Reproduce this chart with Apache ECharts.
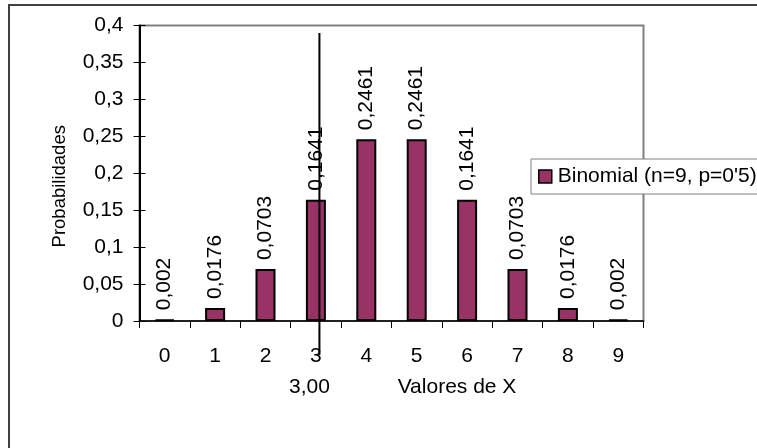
<!DOCTYPE html>
<html>
<head>
<meta charset="utf-8">
<script src="https://cdn.jsdelivr.net/npm/echarts@6/dist/echarts.min.js"></script>
<style>
  html, body { margin: 0; padding: 0; background: #fff; }
  #chart { width: 757px; height: 448px; }
</style>
</head>
<body>
<div id="chart"></div>
<script>
// Binomial distribution n=9, p=0.5
const categories = ['0', '1', '2', '3', '4', '5', '6', '7', '8', '9'];
const probabilities = [0.002, 0.0176, 0.0703, 0.1641, 0.2461, 0.2461, 0.1641, 0.0703, 0.0176, 0.002];
const seriesName = 'Binomial (n=9, p=0\'5)';
// Reference line: x value and its vertical extent (in probability units)
const refX = 3.00;
const refYRange = [-0.046, 0.39];
// Secondary x scale used by the reference line
const refAxisRange = [-0.57, 9.43];

const FONT = '"Liberation Sans", Arial, sans-serif';
const comma = v => String(+(+v).toFixed(4)).replace('.', ',');

const chart = echarts.init(document.getElementById('chart'), null, { renderer: 'canvas' });

chart.setOption({
  animation: false,
  backgroundColor: '#fff',
  textStyle: { fontFamily: FONT, color: '#000' },
  grid: {
    left: 139.5, right: 113.5, top: 25.5, bottom: 127,
    show: true, borderColor: '#808080', borderWidth: 2, backgroundColor: 'transparent'
  },
  legend: {
    left: 531, top: 159,
    padding: [7, 40, 7, 7],
    backgroundColor: '#fff',
    borderColor: '#808080', borderWidth: 1,
    itemWidth: 13, itemHeight: 13, icon: 'rect',
    itemStyle: { color: '#993366', borderColor: '#000', borderWidth: 1.5 },
    textStyle: { fontFamily: FONT, fontSize: 21, color: '#000', padding: [0, 0, 0, 1] },
    data: [seriesName]
  },
  xAxis: [
    {
      type: 'category',
      data: categories,
      boundaryGap: true,
      name: 'Valores de X',
      nameLocation: 'middle',
      nameGap: 56,
      nameTextStyle: { fontFamily: FONT, fontSize: 21, color: '#000', padding: [0, 0, 0, 131] },
      axisLine: { onZero: false, lineStyle: { color: '#000', width: 1.5 } },
      axisTick: { show: true, alignWithLabel: false, length: 7, lineStyle: { color: '#000', width: 1 } },
      axisLabel: { fontFamily: FONT, fontSize: 21, color: '#000', margin: 25 },
      splitLine: { show: false }
    },
    {
      type: 'value',
      min: refAxisRange[0], max: refAxisRange[1],
      show: false,
      axisLine: { onZero: false }
    }
  ],
  yAxis: [
    {
      type: 'value',
      min: 0, max: 0.4, interval: 0.05,
      name: 'Probabilidades',
      nameLocation: 'middle',
      nameGap: 70,
      nameTextStyle: { fontFamily: FONT, fontSize: 18.5, color: '#000', padding: [0, 26, 0, 0] },
      axisLine: { show: true, onZero: false, lineStyle: { color: '#000', width: 2 } },
      axisTick: { show: true, length: 6, lineStyle: { color: '#000', width: 1 } },
      axisLabel: { fontFamily: FONT, fontSize: 21, color: '#000', margin: 16, formatter: v => comma(v) },
      splitLine: { show: false }
    },
    {
      type: 'value',
      min: 0, max: 0.4, interval: 0.05,
      position: 'left',
      offset: 0,
      axisLine: { show: false, onZero: false },
      axisTick: { show: true, inside: true, length: 6, lineStyle: { color: '#000', width: 1 } },
      axisLabel: { show: false },
      splitLine: { show: false }
    }
  ],
  series: [
    {
      name: seriesName,
      type: 'bar',
      xAxisIndex: 0, yAxisIndex: 0,
      data: probabilities,
      barWidth: 20,
      itemStyle: { color: '#993366', borderColor: '#000', borderWidth: 2 },
      label: {
        show: true,
        position: 'top',
        rotate: 90,
        align: 'left',
        verticalAlign: 'middle',
        distance: 9,
        fontFamily: FONT, fontSize: 21, color: '#000',
        formatter: p => comma(p.value)
      }
    },
    {
      name: 'ref',
      type: 'line',
      xAxisIndex: 1, yAxisIndex: 0,
      clip: false,
      symbol: 'circle', symbolSize: 0, showSymbol: true,
      lineStyle: { color: '#000', width: 2 },
      itemStyle: { color: '#000' },
      label: { show: false },
      data: [
        {
          value: [refX, refYRange[0]],
          label: {
            show: true, position: 'bottom', distance: 22, offset: [-10, 0],
            fontFamily: FONT, fontSize: 21, color: '#000',
            formatter: p => p.value[0].toFixed(2).replace('.', ',')
          }
        },
        { value: [refX, refYRange[1]] }
      ]
    }
  ],
  graphic: [
    {
      type: 'rect',
      silent: true,
      z: 100,
      shape: { x: 9, y: 5, width: 900, height: 600 },
      style: { fill: 'none', stroke: '#404040', lineWidth: 2 }
    }
  ]
});
</script>
</body>
</html>
